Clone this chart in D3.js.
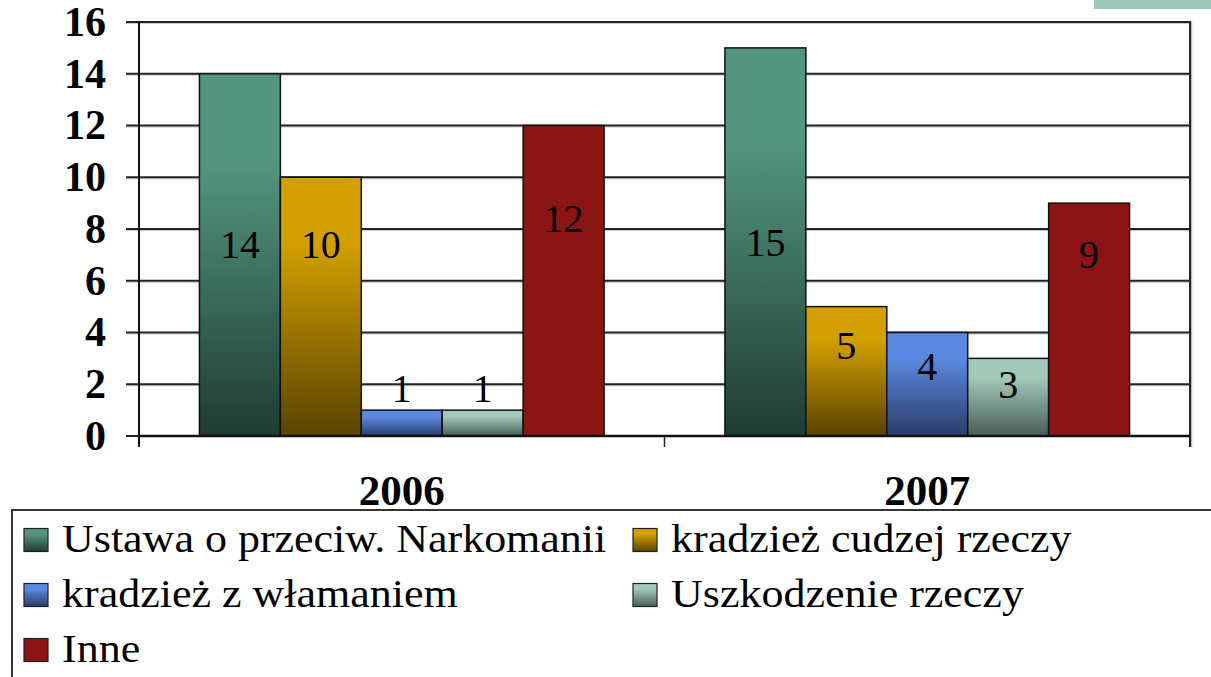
<!DOCTYPE html>
<html lang="pl">
<head>
<meta charset="UTF-8">
<title>Przestępstwa 2006-2007</title>
<script src="https://d3js.org/d3.v7.min.js"></script>
<style>
    body { margin: 0; background: #fff; }
    svg { display: block; }
    text { font-family: "Liberation Serif", "Times New Roman", serif; fill: #000; }
    .tick text { font-size: 42px; font-weight: bold; }
    .xlab { font-size: 43px; font-weight: bold; }
    .val { font-size: 40px; }
    .leg { font-size: 40px; }
</style>
</head>
<body>
<script>
    // data
    var years = ["2006", "2007"];
    var series = ["Ustawa o przeciw. Narkomanii", "kradzież cudzej rzeczy", "kradzież z włamaniem", "Uszkodzenie rzeczy", "Inne"];
    var values2006 = [14, 10, 1, 1, 12];
    var values2007 = [15, 5, 4, 3, 9];
    // where the value labels sit, in axis units
    var labelAt2006 = [7.4, 7.4, 1.85, 1.85, 8.4];
    var labelAt2007 = [7.5, 3.5, 2.7, 2.0, 7.0];
    var yTicks = [0, 2, 4, 6, 8, 10, 12, 14, 16];

    var colorsTop = ["#53957f", "#d4a000", "#5b88df", "#a2c9ba", "#8b1414"];
    var colorsBot = ["#1f3b33", "#594300", "#2a3c68", "#485c55", "#8b1414"];

    var W = 1211, H = 677;
    var plotLeft = 139, plotRight = 1190, plotTop = 22, zeroY = 436;

    var svg = d3.select("body").append("svg")
        .attr("width", W)
        .attr("height", H);

    var defs = svg.append("defs");
    series.forEach(function (s, i) {
        var g = defs.append("linearGradient")
            .attr("id", "grad" + i)
            .attr("x1", 0).attr("y1", 0)
            .attr("x2", 0).attr("y2", 1);
        g.append("stop").attr("offset", "0%").attr("stop-color", colorsTop[i]);
        g.append("stop").attr("offset", "25%").attr("stop-color", colorsTop[i]);
        g.append("stop").attr("offset", "100%").attr("stop-color", colorsBot[i]);
    });

    var table = years.map(function (yr, j) {
        var vals = j === 0 ? values2006 : values2007;
        var labs = j === 0 ? labelAt2006 : labelAt2007;
        return { year: yr, bars: series.map(function (s, i) {
            return { year: yr, name: s, idx: i, value: vals[i], labelAt: labs[i] };
        }) };
    });

    var y = d3.scaleLinear().domain([0, 16]).range([zeroY, plotTop]);

    var x0 = d3.scaleBand().domain(years).range([plotLeft, plotRight]).padding(0);
    var gap = x0.bandwidth() * 0.115;
    var x1 = d3.scaleBand().domain(d3.range(series.length))
        .range([gap, x0.bandwidth() - gap]).padding(0);

    // little green strip cut off at top right
    svg.append("rect")
        .attr("x", 1094).attr("y", 0)
        .attr("width", W - 1094).attr("height", 9)
        .attr("fill", "#9fc7b9");

    // grid lines (they start at the outer tick)
    var gridVals = yTicks.filter(function (d) { return d > 0; });
    var grid = svg.append("g");
    grid.selectAll("line.sh")
        .data(gridVals)
        .enter().append("line")
        .attr("class", "sh")
        .attr("x1", plotLeft - 13).attr("x2", plotRight)
        .attr("y1", function (d) { return y(d) + 1.5; })
        .attr("y2", function (d) { return y(d) + 1.5; })
        .attr("stroke", "#c8c8c8").attr("stroke-width", 1);
    grid.selectAll("line.gl")
        .data(gridVals)
        .enter().append("line")
        .attr("class", "gl")
        .attr("x1", plotLeft - 13).attr("x2", plotRight)
        .attr("y1", function (d) { return y(d); })
        .attr("y2", function (d) { return y(d); })
        .attr("stroke", "#222").attr("stroke-width", 2);

    // right border
    svg.append("line")
        .attr("x1", plotRight + 1.5).attr("x2", plotRight + 1.5)
        .attr("y1", plotTop).attr("y2", zeroY + 11)
        .attr("stroke", "#bbb").attr("stroke-width", 1.5);
    svg.append("line")
        .attr("x1", plotRight).attr("x2", plotRight)
        .attr("y1", plotTop - 1).attr("y2", zeroY + 11)
        .attr("stroke", "#222").attr("stroke-width", 2);

    // bars
    var groups = svg.append("g").selectAll("g")
        .data(table)
        .enter().append("g")
        .attr("transform", function (d) { return "translate(" + x0(d.year) + ",0)"; });

    groups.selectAll("rect")
        .data(function (d) { return d.bars; })
        .enter().append("rect")
        .attr("x", function (d) { return x1(d.idx); })
        .attr("y", function (d) { return y(d.value); })
        .attr("width", x1.bandwidth())
        .attr("height", function (d) { return y(0) - y(d.value); })
        .attr("fill", function (d) { return "url(#grad" + d.idx + ")"; })
        .attr("stroke", "#111")
        .attr("stroke-width", 1.5);

    groups.selectAll("text")
        .data(function (d) { return d.bars; })
        .enter().append("text")
        .attr("class", "val")
        .attr("x", function (d) { return x1(d.idx) + x1.bandwidth() / 2; })
        .attr("y", function (d) { return y(d.labelAt); })
        .attr("dy", "0.34em")
        .attr("text-anchor", "middle")
        .text(function (d) { return d.value; });

    // y axis
    var yAxis = svg.append("g")
        .attr("transform", "translate(" + plotLeft + ",0)")
        .call(d3.axisLeft(y).tickValues(yTicks).tickSize(0).tickPadding(33));
    yAxis.select(".domain").remove();
    yAxis.attr("font-family", null).attr("font-size", null);
    svg.append("line")
        .attr("x1", plotLeft).attr("x2", plotLeft)
        .attr("y1", plotTop - 1).attr("y2", zeroY + 11)
        .attr("stroke", "#111").attr("stroke-width", 2);
    svg.append("line")
        .attr("x1", plotLeft - 13).attr("x2", plotLeft)
        .attr("y1", zeroY).attr("y2", zeroY)
        .attr("stroke", "#222").attr("stroke-width", 2);

    // x axis
    svg.append("line")
        .attr("x1", plotLeft).attr("x2", plotRight)
        .attr("y1", zeroY).attr("y2", zeroY)
        .attr("stroke", "#111").attr("stroke-width", 2.5);
    svg.append("g").selectAll("line")
        .data(years.slice(1))
        .enter().append("line")
        .attr("x1", function (d) { return x0(d); })
        .attr("x2", function (d) { return x0(d); })
        .attr("y1", zeroY).attr("y2", zeroY + 11)
        .attr("stroke", "#222").attr("stroke-width", 1.5);

    svg.append("g").selectAll("text")
        .data(years)
        .enter().append("text")
        .attr("class", "xlab")
        .attr("x", function (d) { return x0(d) + x0.bandwidth() / 2; })
        .attr("y", 505)
        .attr("text-anchor", "middle")
        .text(function (d) { return d; });

    // legend
    var legend = svg.append("g");
    legend.append("rect")
        .attr("x", 12).attr("y", 510)
        .attr("width", W + 20).attr("height", 200)
        .attr("fill", "none")
        .attr("stroke", "#333").attr("stroke-width", 2);

    var colX = [24, 633], rowY = [540, 595, 650];
    var items = legend.selectAll("g.item")
        .data(series)
        .enter().append("g")
        .attr("class", "item")
        .attr("transform", function (d, i) {
            return "translate(" + colX[i % 2] + "," + rowY[Math.floor(i / 2)] + ")";
        });
    items.append("rect")
        .attr("x", 0).attr("y", -11.5)
        .attr("width", 24).attr("height", 23)
        .attr("fill", function (d, i) { return "url(#grad" + i + ")"; })
        .attr("stroke", "#222").attr("stroke-width", 1.2);
    // legend text is a bit wider than tall in the picture
    items.append("g")
        .attr("transform", "translate(38,12) scale(1.1,1)")
        .append("text")
        .attr("class", "leg")
        .text(function (d) { return d; });
</script>
</body>
</html>
